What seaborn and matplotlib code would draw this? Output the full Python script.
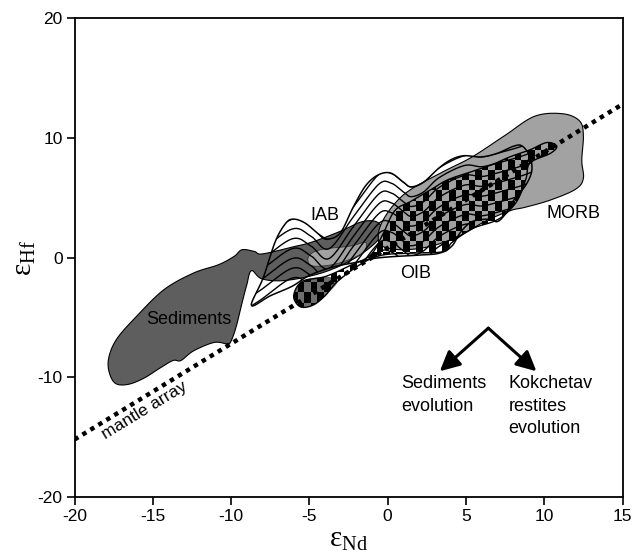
import numpy as np
import matplotlib
matplotlib.use("Agg")
import matplotlib.pyplot as plt
from matplotlib.patches import Polygon
import seaborn as sns

# ---------------- data ----------------
mantle_x = [-20.0, 15.0]
mantle_y = [-15.2, 12.8]

sed_x = [-17.3, -16.1, -14.3, -12.4, -10.8, -9.8, -9.3, -8.5, -8.0, -6.0, -4.8, -3.0, -1.6, -0.6,
         -0.4, -1.9, -4.0, -6.4, -8.0, -8.7, -9.0, -9.3, -9.7, -10.05, -10.3, -11.1, -12.4,
         -13.2, -13.7, -14.5, -15.6, -16.6, -17.4, -17.8, -17.8]
sed_y = [-6.8, -5.0, -2.7, -1.3, -0.6, 0.1, 0.65, 0.5, 0.3, 0.9, 1.3, 2.2, 3.0, 2.9,
         1.8, 0.1, -1.2, -1.9, -1.8, -1.1, -2.3, -3.8, -5.9, -7.1, -7.2, -7.1, -7.8,
         -8.6, -8.6, -9.2, -10.1, -10.6, -10.5, -9.5, -8.3]

morb_x = [9.4, 11.2, 12.26, 12.5, 12.4, 12.5, 12.0, 10.4, 8.8, 7.8, 6.2, 4.65, 2.8, 0.97,
          -0.34, -0.6, -0.34, 0.45, 1.5, 3.6, 5.4, 7.5]
morb_y = [11.8, 12.0, 11.4, 10.2, 8.1, 6.6, 5.7, 4.8, 4.2, 3.9, 3.0, 1.85, 0.95, 0.65,
          0.95, 1.8, 3.0, 4.5, 5.7, 7.2, 8.4, 10.2]

patch_x = [-5.06, -4.3, -2.4, -1.4, -1.65, -3.2, -4.8]
patch_y = [0.06, 0.65, 0.95, 1.25, 0.35, -0.5, -0.7]

lobe_x = [-6.0, -5.46, -4.0, -3.2, -4.0, -4.8, -5.6]
lobe_y = [-3.2, -2.0, -1.6, -2.0, -3.2, -4.0, -4.1]

oib_x = [-6.0, -5.46, -4.0, -2.44, -1.1, -0.34, 0.45, 1.5, 2.8, 3.86, 5.43, 6.75, 7.8, 9.1,
         10.16, 10.8, 10.4, 9.1, 8.84, 8.3, 7.5, 6.75, 5.4, 4.1, 3.6, 1.5, -0.34, -1.65,
         -3.2, -4.0, -4.8, -5.6]
oib_y = [-3.2, -2.0, -1.6, -0.7, 0.2, 1.85, 3.9, 4.7, 5.7, 6.5, 7.2, 7.8, 8.4, 9.0,
         9.6, 9.3, 8.7, 7.9, 6.6, 4.8, 3.6, 3.0, 2.4, 1.25, 0.5, 0.36, 0.2, -0.5,
         -2.0, -3.2, -4.0, -4.1]

iab_top_x = [-8.7, -7.95, -7.2, -6.6, -6.1, -5.3, -4.3, -3.75, -3.0, -2.2, -1.4, -0.6, 0.2,
             1.0, 1.5, 2.3, 3.3, 4.1, 4.9, 5.96, 7.0, 8.06, 8.6]
iab_top_y = [-4.0, -1.7, 1.25, 2.7, 3.2, 2.9, 1.85, 1.55, 2.1, 4.2, 6.0, 6.9, 7.05,
             6.3, 5.9, 6.3, 7.5, 8.2, 8.5, 8.4, 8.7, 9.3, 9.3]
iab_bot_x = [9.1, 9.2, 8.8, 8.06, 7.5, 7.0, 6.5, 5.4, 4.65, 4.1, 3.3, 2.0, 0.2, -1.0,
             -2.0, -3.5, -5.0, -6.1, -7.5]
iab_bot_y = [8.4, 7.2, 6.0, 4.8, 3.6, 3.0, 3.2, 3.0, 2.1, 0.95, 0.36, 0.2, 0.06, -0.1,
             -0.4, -0.8, -1.5, -2.4, -3.2]

# hatch-wave template (shape of the IAB upper edge)
wave_x = [-10.0, -8.2, -6.1, -4.9, -3.75, -2.2, -0.6, 0.2, 1.0, 1.5, 2.3, 3.3, 4.9, 6.0, 7.0, 8.6, 10.0]
wave_y = [-0.2, 1.3, 3.2, 2.6, 1.55, 4.2, 6.9, 7.05, 6.3, 5.9, 6.3, 7.5, 8.5, 8.4, 8.7, 9.3, 10.0]

labels = {"Sediments": (-12.7, -5.2), "IAB": (-4.0, 3.5), "OIB": (1.8, -1.3), "MORB": (11.9, 3.7)}
arrow_start = (6.43, -5.9)
arrow_ends = [(3.33, -9.5), (9.5, -9.5)]

# ---------------- helpers ----------------
def smooth_closed(xs, ys, n=12):
    p = np.column_stack([xs, ys])
    m = len(p)
    out = []
    for i in range(m):
        p0, p1, p2, p3 = p[i - 1], p[i], p[(i + 1) % m], p[(i + 2) % m]
        for t in np.linspace(0, 1, n, endpoint=False):
            t2, t3 = t * t, t * t * t
            out.append(0.5 * ((2 * p1) + (-p0 + p2) * t + (2 * p0 - 5 * p1 + 4 * p2 - p3) * t2
                              + (-p0 + 3 * p1 - 3 * p2 + p3) * t3))
    return np.array(out)

def smooth_open(xs, ys, n=12):
    p = np.column_stack([xs, ys])
    p = np.vstack([p[0], p, p[-1]])
    out = []
    for i in range(1, len(p) - 2):
        p0, p1, p2, p3 = p[i - 1], p[i], p[i + 1], p[i + 2]
        for t in np.linspace(0, 1, n, endpoint=False):
            t2, t3 = t * t, t * t * t
            out.append(0.5 * ((2 * p1) + (-p0 + p2) * t + (2 * p0 - 5 * p1 + 4 * p2 - p3) * t2
                              + (-p0 + 3 * p1 - 3 * p2 + p3) * t3))
    out.append(p[-2])
    return np.array(out)

# ---------------- figure ----------------
sns.set_theme(style="ticks")
plt.rcParams["font.family"] = ["Liberation Sans", "DejaVu Sans"]
plt.rcParams["text.color"] = "black"
plt.rcParams["axes.labelcolor"] = "black"
plt.rcParams["axes.unicode_minus"] = False

fig = plt.figure(figsize=(6.41, 5.59), dpi=100)
ax = fig.add_axes([74.5 / 641, 1 - 497 / 559, 548 / 641, 479 / 559])

# Sediments
ax.add_patch(Polygon(smooth_closed(sed_x, sed_y), closed=True, facecolor="#5e5e5e",
                     edgecolor="black", lw=0.8, zorder=2))

# MORB
ax.add_patch(Polygon(smooth_closed(morb_x, morb_y), closed=True, facecolor="#a2a2a2",
                     edgecolor="black", lw=0.8, zorder=3))
ax.add_patch(Polygon(smooth_closed(patch_x, patch_y), closed=True, facecolor="#a2a2a2",
                     edgecolor="#333333", lw=0.6, zorder=3))
ax.add_patch(Polygon(smooth_closed(lobe_x, lobe_y), closed=True, facecolor="#6e6e6e",
                     edgecolor="none", zorder=3))

# OIB checkerboard
oib_pts = smooth_closed(oib_x, oib_y)
oib_clip = Polygon(oib_pts, closed=True, facecolor="none", edgecolor="none",
                   transform=ax.transData)
ax.add_patch(oib_clip)
cw, ch = 0.42, 0.85
nx = int(np.ceil((11.5 + 7.0) / cw))
ny = int(np.ceil((11.0 + 5.5) / ch))
ii, jj = np.meshgrid(np.arange(nx), np.arange(ny))
chk = np.zeros((ny, nx, 4))
chk[..., 3] = ((ii + jj) % 2 == 0).astype(float)
im = ax.imshow(chk, extent=[-7.0, -7.0 + nx * cw, -5.5, -5.5 + ny * ch], origin="lower",
               interpolation="nearest", aspect="auto", zorder=4)
im.set_clip_path(oib_clip)
ax.add_patch(Polygon(oib_pts, closed=True, facecolor="none", edgecolor="black",
                     lw=1.0, zorder=5))

# IAB wavy hatch
iab_pts = smooth_closed(iab_top_x + iab_bot_x, iab_top_y + iab_bot_y)
iab_clip = Polygon(iab_pts, closed=True, facecolor="none", edgecolor="none",
                   transform=ax.transData)
ax.add_patch(iab_clip)
wave = smooth_open(wave_x, wave_y, n=20)
for k in range(0, 24):
    ln, = ax.plot(wave[:, 0], wave[:, 1] - 0.82 * k, color="black", lw=1.0, zorder=6)
    ln.set_clip_path(iab_clip)
ax.add_patch(Polygon(iab_pts, closed=True, facecolor="none", edgecolor="black",
                     lw=1.1, zorder=6))

# mantle array
sns.lineplot(x=mantle_x, y=mantle_y, ax=ax, color="black", lw=3.2,
             linestyle=(0, (1, 1.1)), zorder=7)
ax.text(-15.5, -12.8, "mantle array", rotation=31.3, ha="center", va="center",
        fontsize=12.5, rotation_mode="anchor", zorder=8)

for name, (x, y) in labels.items():
    ax.text(x, y, name, ha="center", va="center", fontsize=13, zorder=8)

# arrows
for ex, ey in arrow_ends:
    ax.annotate("", xy=(ex, ey), xytext=arrow_start,
                arrowprops=dict(arrowstyle="-|>,head_length=1.0,head_width=0.5",
                                color="black", lw=2.2, shrinkA=0, shrinkB=0), zorder=8)
ax.text(0.84, -9.85, "Sediments\nevolution", ha="left", va="top", fontsize=13,
        linespacing=1.4, zorder=8)
ax.text(7.72, -9.85, "Kokchetav\nrestites\nevolution", ha="left", va="top", fontsize=13,
        linespacing=1.4, zorder=8)

ax.set_xlim(-20, 15)
ax.set_ylim(-20, 20)
ax.set_xticks(np.arange(-20, 16, 5))
ax.set_yticks(np.arange(-20, 21, 10))
ax.tick_params(axis="both", direction="out", length=5.5, width=1.2, labelsize=12.5,
               colors="black", pad=3)
for s in ax.spines.values():
    s.set_visible(True)
    s.set_color("black")
    s.set_linewidth(1.3)
ax.set_facecolor("white")

ax.set_xlabel(r"$\mathregular{ε}_{\mathregular{Nd}}$", fontfamily="Liberation Serif",
              fontsize=21, labelpad=2)
ax.set_ylabel(r"$\mathregular{ε}_{\mathregular{Hf}}$", fontfamily="Liberation Serif",
              fontsize=21, labelpad=0)

fig.savefig("out.png", dpi=100)
